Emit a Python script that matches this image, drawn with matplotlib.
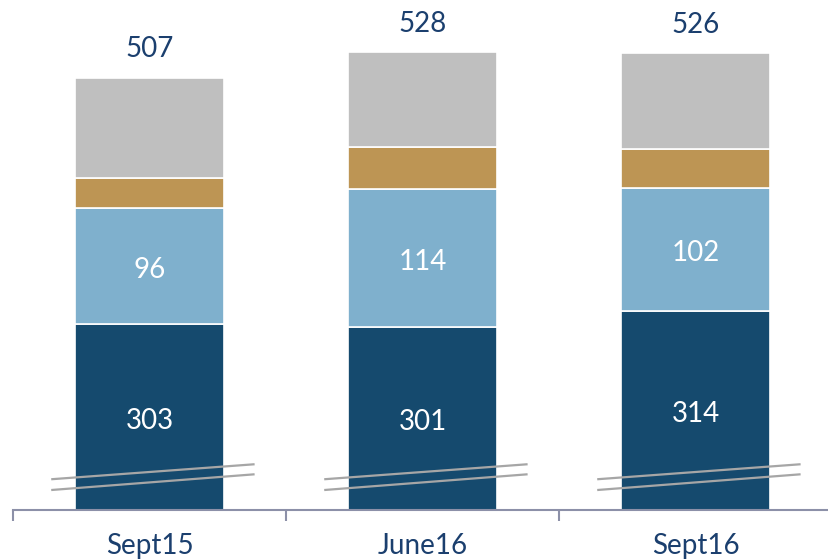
import matplotlib
matplotlib.use("Agg")
import matplotlib.pyplot as plt
import numpy as np

categories = ["Sept15", "June16", "Sept16"]
dark = [303, 301, 314]
light = [96, 114, 102]
gold = [25, 35, 32]
gray = [83, 78, 79]
totals = [507, 528, 526]

c_dark = "#154a6e"
c_light = "#7fb0cd"
c_gold = "#bd9554"
c_gray = "#bfbfbf"
c_text = "#1b3f6e"

plt.rcParams['font.family'] = ['Lato', 'DejaVu Sans']
FW = "normal"

fig = plt.figure(figsize=(8.29, 5.59), dpi=100)
ax = fig.add_axes([13/829, (559-509.5)/559, 816/829, 509.5/559])

x = np.arange(len(categories))
w = 0.546
base = 150
ymax = base + 509.5/1.21

bottoms = np.zeros(3)
for vals, col in [(dark, c_dark), (light, c_light), (gold, c_gold), (gray, c_gray)]:
    v = np.array(vals, dtype=float)
    ax.bar(x, v, w, bottom=bottoms, color=col, edgecolor="white", linewidth=1.2, zorder=2)
    bottoms += v

for i in range(3):
    ax.annotate(str(dark[i]), (x[i], base + (dark[i] - base) / 2), xytext=(0, -1),
                textcoords="offset points", ha="center", va="center_baseline",
                color="white", fontsize=20, fontweight=FW, zorder=4)
    ax.annotate(str(light[i]), (x[i], dark[i] + light[i] / 2), xytext=(0, -1),
                textcoords="offset points", ha="center", va="center_baseline",
                color="white", fontsize=20, fontweight=FW, zorder=4)
    ax.annotate(str(totals[i]), (x[i], bottoms[i]), xytext=(0, 11), textcoords="offset points",
                ha="center", va="bottom", color=c_text, fontsize=20, fontweight=FW)

# break marks
for i in range(3):
    for y0, y1 in [(175, 187.4), (166.1, 179.1)]:
        ax.plot([x[i] - 0.36, x[i] + 0.385], [y0, y1], color="#a6a6a6", lw=1.6, zorder=3,
                solid_capstyle="butt")

ax.set_xlim(-0.5, -0.5 + 816/273)
ax.set_ylim(base, ymax)
for s in ["top", "right", "left"]:
    ax.spines[s].set_visible(False)
ax.spines["bottom"].set_color("#8c90a8")
ax.spines["bottom"].set_linewidth(1.5)
ax.set_yticks([])
ax.set_xticks([-0.5, 0.5, 1.5], minor=False)
ax.set_xticklabels([])
ax.tick_params(axis="x", which="major", length=8, width=1.5, color="#8c90a8")
ax.set_xticks(x, minor=True)
ax.set_xticklabels(categories, minor=True, fontsize=20, color=c_text, fontweight=FW)
ax.tick_params(axis="x", which="minor", length=0, pad=17)

fig.savefig("out.png", dpi=100)
